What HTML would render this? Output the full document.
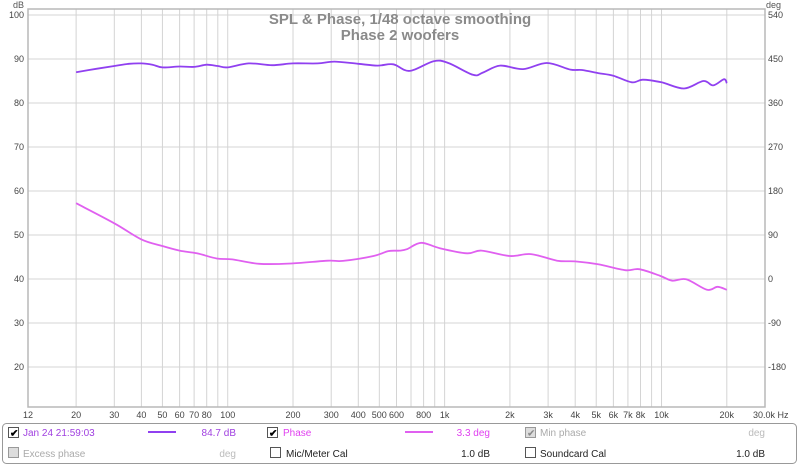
<!DOCTYPE html>
<html><head><meta charset="utf-8"><style>
body{margin:0;background:#fff;width:800px;height:466px;overflow:hidden;font-family:"Liberation Sans",sans-serif}
svg text{font-family:"Liberation Sans",sans-serif}
</style></head><body>
<svg id="chart" width="800" height="466" viewBox="0 0 800 466" xmlns="http://www.w3.org/2000/svg">
<g id="grid"></g>
<rect x="28" y="9" width="737" height="398" fill="none" stroke="#b8b8b8" stroke-width="1.5"/>
<g id="axes"></g>
<text x="400" y="24" text-anchor="middle" font-size="15" font-weight="bold" fill="#8a8a8a">SPL &amp; Phase, 1/48 octave smoothing</text>
<text x="400" y="40" text-anchor="middle" font-size="15" font-weight="bold" fill="#8a8a8a">Phase 2 woofers</text>
<text x="13" y="8" font-size="9" fill="#555">dB</text>
<text x="766" y="8" font-size="9" fill="#555">deg</text>
<g id="series"></g>
<g id="legend">
<rect x="2.5" y="423.5" width="794" height="40" rx="4" fill="#fff" stroke="#999"/>
<g>
<rect x="8.5" y="427.5" width="10" height="10" fill="#fff" stroke="#555"/>
<text x="10" y="436.5" font-size="10" font-weight="bold">✔</text>
<text x="23" y="436" font-size="10" fill="#a040e0">Jan 24 21:59:03</text>
<line x1="148" y1="432" x2="176" y2="432" stroke="#9040f0" stroke-width="2"/>
<text x="236" y="436" text-anchor="end" font-size="10" fill="#a040e0">84.7 dB</text>
</g>
<g>
<rect x="267.5" y="427.5" width="10" height="10" fill="#fff" stroke="#555"/>
<text x="269" y="436.5" font-size="10" font-weight="bold">✔</text>
<text x="283" y="436" font-size="10" fill="#e040f0">Phase</text>
<line x1="405" y1="432" x2="433" y2="432" stroke="#e060f0" stroke-width="2"/>
<text x="490" y="436" text-anchor="end" font-size="10" fill="#e040f0">3.3 deg</text>
</g>
<g>
<rect x="525.5" y="427.5" width="10" height="10" fill="#ddd" stroke="#999"/>
<text x="527" y="436.5" font-size="10" fill="#888">✔</text>
<text x="540" y="436" font-size="10" fill="#aaa">Min phase</text>
<text x="765" y="436" text-anchor="end" font-size="10" fill="#bbb">deg</text>
</g>
<g>
<rect x="8.5" y="447.5" width="10" height="10" fill="#ddd" stroke="#999"/>
<text x="23" y="457" font-size="10" fill="#aaa">Excess phase</text>
<text x="236" y="457" text-anchor="end" font-size="10" fill="#bbb">deg</text>
</g>
<g>
<rect x="270.5" y="447.5" width="10" height="10" fill="#fff" stroke="#555"/>
<text x="286" y="457" font-size="10" fill="#222">Mic/Meter Cal</text>
<text x="490" y="457" text-anchor="end" font-size="10" fill="#222">1.0 dB</text>
</g>
<g>
<rect x="525.5" y="447.5" width="10" height="10" fill="#fff" stroke="#555"/>
<text x="540" y="457" font-size="10" fill="#222">Soundcard Cal</text>
<text x="765" y="457" text-anchor="end" font-size="10" fill="#222">1.0 dB</text>
</g>
</g>
</svg>
<script>
const splFreq=[20,25,30,35,40,45,50,60,70,80,90,100,125,160,200,260,310,400,490,580,690,890,1040,1350,1500,1800,2300,2960,3800,4300,5100,6000,7300,8200,10000,12700,15600,17300,19400,20000];
const splDb=[87.0,87.8,88.4,88.9,89.0,88.7,88.1,88.3,88.2,88.7,88.4,88.1,89.0,88.6,89.0,89.0,89.4,88.9,88.5,88.8,87.3,89.5,89.1,86.4,86.9,88.5,87.7,89.1,87.6,87.5,86.8,86.2,84.7,85.3,84.7,83.3,85.0,84.0,85.4,84.5];
const phFreq=[20,30,40,50,60,72,89,105,140,200,290,340,470,550,620,670,780,950,1270,1480,2000,2500,3300,4000,5100,6800,7900,9800,11200,13000,16200,18100,20000];
const phDeg=[155,114,81,67.5,58,52.6,42,40,31,32,37.5,37,47,57,58,61,74,63,52.5,58,47,51,37.5,36,30,18,20,7,-3.5,-0.6,-22,-16,-22];
const dbTicks=[20,30,40,50,60,70,80,90,100];
const degTicks=["-180","-90","0","90","180","270","360","450","540"];
const freqGrid=[20,30,40,50,60,70,80,90,100,200,300,400,500,600,700,800,900,1000,2000,3000,4000,5000,6000,7000,8000,9000,10000,20000];
const freqTickVals=[12,20,30,40,50,60,70,80,100,200,300,400,500,600,800,1000,2000,3000,4000,5000,6000,7000,8000,10000,20000,30000];
const freqTickLabels=["12","20","30","40","50","60","70","80","100","200","300","400","500","600","800","1k","2k","3k","4k","5k","6k","7k","8k","10k","20k","30.0k Hz"];
const NS="http://www.w3.org/2000/svg";
const X0=28,X1=765,FMIN=12,FMAX=30000;
const xS=f=>X0+(X1-X0)*Math.log10(f/FMIN)/Math.log10(FMAX/FMIN);
const yDb=d=>15+(100-d)*4.4;
const yDeg=g=>yDb(40+g/9);
function mk(tag,attrs,parent){const e=document.createElementNS(NS,tag);for(const k in attrs)e.setAttribute(k,attrs[k]);parent.appendChild(e);return e;}
const grid=document.getElementById('grid'),axes=document.getElementById('axes'),series=document.getElementById('series');
freqGrid.forEach(f=>{const l=mk('line',{x1:xS(f),x2:xS(f),y1:9,y2:407,stroke:'#d4d4d4','stroke-width':1},grid);

});
dbTicks.forEach((d,i)=>{const y=yDb(d);
const l=mk('line',{x1:28,x2:765,y1:y,y2:y,stroke:'#d4d4d4','stroke-width':1},grid);


const t=mk('text',{x:24,y:y+3,'text-anchor':'end','font-size':9,fill:'#444'},axes);t.textContent=d;


const r=mk('text',{x:768,y:y+3,'font-size':9,fill:'#444'},axes);r.textContent=degTicks[i];

});
freqTickVals.forEach((f,i)=>{const t=mk('text',{x:xS(f),y:418,'text-anchor':i==freqTickVals.length-1?'start':'middle','font-size':9,fill:'#444'},axes);
if(i==freqTickVals.length-1)t.setAttribute('x',xS(f)-12);
t.textContent=freqTickLabels[i];

});
function smooth(pts){let d=`M${pts[0][0]},${pts[0][1]}`;for(let i=0;i<pts.length-1;i++){const p0=pts[Math.max(0,i-1)],p1=pts[i],p2=pts[i+1],p3=pts[Math.min(pts.length-1,i+2)];
const c1=[p1[0]+(p2[0]-p0[0])/6,p1[1]+(p2[1]-p0[1])/6],c2=[p2[0]-(p3[0]-p1[0])/6,p2[1]-(p3[1]-p1[1])/6];
d+=` C${c1[0].toFixed(1)},${c1[1].toFixed(1)} ${c2[0].toFixed(1)},${c2[1].toFixed(1)} ${p2[0].toFixed(1)},${p2[1].toFixed(1)}`;}return d;}
const spl=mk('path',{d:smooth(splFreq.map((f,i)=>[xS(f),yDb(splDb[i])])),fill:'none',stroke:'#9040f0','stroke-width':1.8},series);


const ph=mk('path',{d:smooth(phFreq.map((f,i)=>[xS(f),yDeg(phDeg[i])])),fill:'none',stroke:'#e060f0','stroke-width':1.8},series);


</script>
</body></html>
